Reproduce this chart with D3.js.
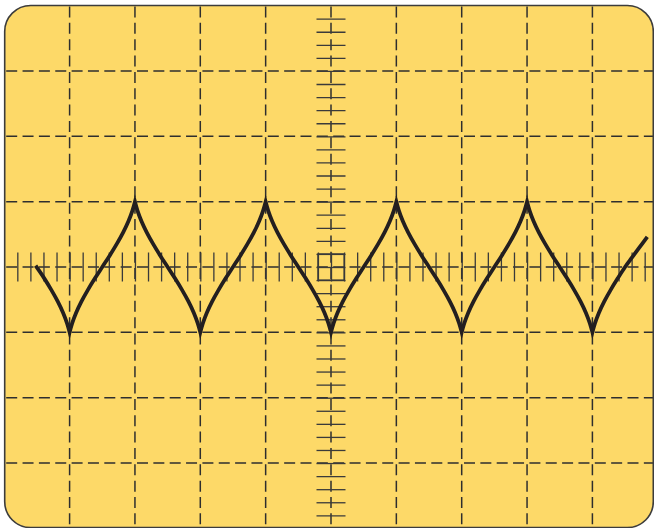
<!DOCTYPE html>
<html>
<head>
<meta charset="utf-8">
<script src="https://cdn.jsdelivr.net/npm/d3@7"></script>
<style>
  html, body { margin: 0; padding: 0; background: #ffffff; }
  svg { display: block; }
</style>
</head>
<body>
<svg id="chart" width="654" height="528"></svg>
<script>
// ---- data (in screen divisions; centre of screen = 0,0) ----
const gridXs = [-4, -3, -2, -1, 0, 1, 2, 3, 4];      // vertical dashed grid lines
const gridYs = [-3, -2, -1, 0, 1, 2, 3];             // horizontal dashed grid lines
const minorTicksX = d3.range(-24, 25).map(k => k / 5);  // small marks on horizontal axis
const minorTicksY = d3.range(-19, 20).map(k => k / 5);  // small marks on vertical axis

// waveform trace (x, y), cusps at |y| = 1
const wave = [
  [-4.52, 0.02], [-4.39, -0.17], [-4.28, -0.35], [-4.18, -0.53], [-4.10, -0.70], [-4.04, -0.86], [-4.00, -1],
  [-3.96, -0.86], [-3.90, -0.70], [-3.82, -0.53], [-3.72, -0.35], [-3.61, -0.17], [-3.50, 0], [-3.39, 0.17], [-3.28, 0.35], [-3.18, 0.53], [-3.10, 0.70], [-3.04, 0.86], [-3.00, 1],
  [-2.96, 0.86], [-2.90, 0.70], [-2.82, 0.53], [-2.72, 0.35], [-2.61, 0.17], [-2.50, 0], [-2.39, -0.17], [-2.28, -0.35], [-2.18, -0.53], [-2.10, -0.70], [-2.04, -0.86], [-2.00, -1],
  [-1.96, -0.86], [-1.90, -0.70], [-1.82, -0.53], [-1.72, -0.35], [-1.61, -0.17], [-1.50, 0], [-1.39, 0.17], [-1.28, 0.35], [-1.18, 0.53], [-1.10, 0.70], [-1.04, 0.86], [-1.00, 1],
  [-0.96, 0.86], [-0.90, 0.70], [-0.82, 0.53], [-0.72, 0.35], [-0.61, 0.17], [-0.50, 0], [-0.39, -0.17], [-0.28, -0.35], [-0.18, -0.53], [-0.10, -0.70], [-0.04, -0.86], [0.00, -1],
  [0.04, -0.86], [0.10, -0.70], [0.18, -0.53], [0.28, -0.35], [0.39, -0.17], [0.50, 0], [0.61, 0.17], [0.72, 0.35], [0.82, 0.53], [0.90, 0.70], [0.96, 0.86], [1.00, 1],
  [1.04, 0.86], [1.10, 0.70], [1.18, 0.53], [1.28, 0.35], [1.39, 0.17], [1.50, 0], [1.61, -0.17], [1.72, -0.35], [1.82, -0.53], [1.90, -0.70], [1.96, -0.86], [2.00, -1],
  [2.04, -0.86], [2.10, -0.70], [2.18, -0.53], [2.28, -0.35], [2.39, -0.17], [2.50, 0], [2.61, 0.17], [2.72, 0.35], [2.82, 0.53], [2.90, 0.70], [2.96, 0.86], [3.00, 1],
  [3.04, 0.86], [3.10, 0.70], [3.18, 0.53], [3.28, 0.35], [3.39, 0.17], [3.50, 0], [3.61, -0.17], [3.72, -0.35], [3.82, -0.53], [3.90, -0.70], [3.96, -0.86], [4.00, -1],
  [4.04, -0.86], [4.10, -0.70], [4.18, -0.53], [4.28, -0.35], [4.39, -0.17], [4.50, 0], [4.61, 0.15], [4.72, 0.30], [4.84, 0.46]
];

// ---- layout ----
const div = 65.35, cx = 331, cy = 267;
const x = d3.scaleLinear().domain([-5, 5]).range([cx - 5 * div, cx + 5 * div]);
const y = d3.scaleLinear().domain([-4, 4]).range([cy + 4 * div, cy - 4 * div]);

const svg = d3.select("#chart");
const screen = { x0: 4.7, y0: 5.5, x1: 653.3, y1: 527.6, r: 26 };

const defs = svg.append("defs");
defs.append("clipPath").attr("id", "clip")
  .append("rect")
  .attr("x", screen.x0).attr("y", screen.y0)
  .attr("width", screen.x1 - screen.x0).attr("height", screen.y1 - screen.y0)
  .attr("rx", screen.r).attr("ry", screen.r);

svg.append("rect")
  .attr("x", screen.x0).attr("y", screen.y0)
  .attr("width", screen.x1 - screen.x0).attr("height", screen.y1 - screen.y0)
  .attr("rx", screen.r).attr("ry", screen.r)
  .attr("fill", "#fdd968");

const g = svg.append("g").attr("clip-path", "url(#clip)");

const gridColor = "#2e2e2e";
// vertical grid lines
g.selectAll("line.gx").data(gridXs).join("line")
  .attr("class", "gx")
  .attr("x1", d => x(d)).attr("x2", d => x(d))
  .attr("y1", screen.y0).attr("y2", screen.y1)
  .attr("stroke", gridColor).attr("stroke-width", 1.5)
  .attr("stroke-dasharray", "11,5.35")
  .attr("stroke-dashoffset", -1);
// horizontal grid lines
g.selectAll("line.gy").data(gridYs).join("line")
  .attr("class", "gy")
  .attr("y1", d => y(d)).attr("y2", d => y(d))
  .attr("x1", screen.x0).attr("x2", screen.x1)
  .attr("stroke", gridColor).attr("stroke-width", 1.5)
  .attr("stroke-dasharray", "11,5.35")
  .attr("stroke-dashoffset", -1.5);

// axis tick marks (no labels) through the centre
const tickLen = 14.5;
function styleAxis(sel) {
  sel.select(".domain").remove();
  sel.selectAll(".tick line").attr("stroke", "#3a3a3a").attr("stroke-width", 1.3);
  sel.selectAll(".tick text").remove();
}
g.append("g").attr("transform", `translate(0,${y(0)})`)
  .call(d3.axisBottom(x).tickValues(minorTicksX).tickSize(tickLen).tickFormat(""))
  .call(styleAxis);
g.append("g").attr("transform", `translate(0,${y(0)})`)
  .call(d3.axisTop(x).tickValues(minorTicksX).tickSize(tickLen).tickFormat(""))
  .call(styleAxis);
g.append("g").attr("transform", `translate(${x(0)},0)`)
  .call(d3.axisLeft(y).tickValues(minorTicksY).tickSize(tickLen).tickFormat(""))
  .call(styleAxis);
g.append("g").attr("transform", `translate(${x(0)},0)`)
  .call(d3.axisRight(y).tickValues(minorTicksY).tickSize(tickLen).tickFormat(""))
  .call(styleAxis);

// centre square
g.append("rect")
  .attr("x", x(-0.2)).attr("y", y(0.2))
  .attr("width", x(0.2) - x(-0.2)).attr("height", y(-0.2) - y(0.2))
  .attr("fill", "none").attr("stroke", "#3a3a3a").attr("stroke-width", 1.3);

// waveform: split into smooth pieces between cusps, joined in one path
const segments = [];
let cur = [];
wave.forEach(p => {
  cur.push(p);
  if (Math.abs(p[1]) === 1) { segments.push(cur); cur = [p]; }
});
if (cur.length > 1) segments.push(cur);

const line = d3.line()
  .x(d => x(d[0])).y(d => y(d[1]))
  .curve(d3.curveCatmullRom.alpha(0.5));
const dPath = segments.map((s, i) => {
  const p = line(s);
  return i === 0 ? p : p.replace(/^M[^A-DF-Za-df-z]*/, "");
}).join("");

g.append("path")
  .attr("d", dPath)
  .attr("fill", "none")
  .attr("stroke", "#231f20")
  .attr("stroke-width", 3.8)
  .attr("stroke-linejoin", "miter")
  .attr("stroke-miterlimit", 6)
  .attr("stroke-linecap", "butt");

// screen border
svg.append("rect")
  .attr("x", screen.x0).attr("y", screen.y0)
  .attr("width", screen.x1 - screen.x0).attr("height", screen.y1 - screen.y0)
  .attr("rx", screen.r).attr("ry", screen.r)
  .attr("fill", "none").attr("stroke", "#3c3c3c").attr("stroke-width", 1.6);
</script>
</body>
</html>
